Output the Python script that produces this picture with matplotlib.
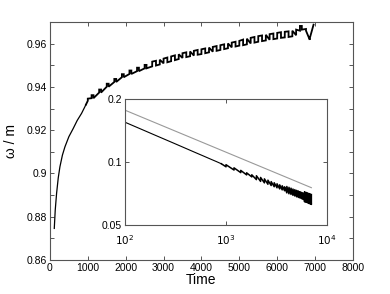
import matplotlib
matplotlib.use("Agg")
import matplotlib.pyplot as plt
from matplotlib.ticker import FixedLocator, NullLocator, NullFormatter

plt.rcParams['font.family'] = ['Liberation Sans', 'DejaVu Sans']

# ---- main curve: omega/m versus time (smooth early part) ----
smooth_t = [115, 140, 176, 220, 264, 330, 396, 500, 615, 720, 836, 950]
smooth_w = [0.8746, 0.8830, 0.8908, 0.8980, 0.9031, 0.9085, 0.9123, 0.9170, 0.9208, 0.9245, 0.9278, 0.9318]

# ---- jagged late part: each step has a first and second level at the same time ----
jag_t = [1000, 1100, 1150, 1300, 1350, 1500, 1550, 1700, 1750, 1900, 1950,
         2100, 2150, 2300, 2350, 2500, 2550, 2700, 2800, 2900,
         3000, 3100, 3200, 3300, 3400, 3500, 3600, 3700, 3800, 3900,
         4000, 4100, 4200, 4300, 4400, 4500, 4600, 4700, 4800, 4900,
         5000, 5100, 5200, 5300, 5400, 5500, 5600, 5700, 5800, 5900,
         6000, 6100, 6200, 6300, 6400, 6500, 6600, 6650, 6760, 6860]
jag_first = [0.9336, 0.9348, 0.9362, 0.9374, 0.9388, 0.9401, 0.9415, 0.9423, 0.9437, 0.9445, 0.9459,
             0.9460, 0.9476, 0.9473, 0.9489, 0.9486, 0.9502, 0.9495, 0.9521, 0.9504,
             0.9509, 0.9536, 0.9519, 0.9546, 0.9529, 0.9534, 0.9560, 0.9542, 0.9545, 0.9571,
             0.9552, 0.9578, 0.9560, 0.9563, 0.9589, 0.9571, 0.9597, 0.9579, 0.9583, 0.9609,
             0.9591, 0.9619, 0.9597, 0.9601, 0.9631, 0.9609, 0.9638, 0.9615, 0.9618, 0.9647,
             0.9624, 0.9653, 0.9629, 0.9657, 0.9634, 0.9639, 0.9660, 0.9682, 0.9668, 0.9618]
jag_second = [0.9346, 0.9362, 0.9348, 0.9388, 0.9374, 0.9415, 0.9401, 0.9437, 0.9423, 0.9459, 0.9445,
              0.9476, 0.9460, 0.9489, 0.9473, 0.9502, 0.9486, 0.9517, 0.9499, 0.9526,
              0.9531, 0.9514, 0.9541, 0.9524, 0.9551, 0.9556, 0.9538, 0.9564, 0.9567, 0.9549,
              0.9574, 0.9556, 0.9582, 0.9585, 0.9567, 0.9593, 0.9575, 0.9601, 0.9605, 0.9587,
              0.9613, 0.9593, 0.9623, 0.9627, 0.9605, 0.9635, 0.9612, 0.9641, 0.9644, 0.9621,
              0.9650, 0.9627, 0.9655, 0.9631, 0.9660, 0.9665, 0.9682, 0.9665, 0.9660, 0.9625]
end_t = 6960
end_w = 0.9688

# ---- inset: log-log decay ----
inset_smooth_t = [100, 150, 200, 300, 400, 500, 600, 700, 800, 900]
inset_smooth_v = [0.1550, 0.1425, 0.1342, 0.1234, 0.1162, 0.1109, 0.1068, 0.1034, 0.1006, 0.0981]
inset_jag_t = [1000, 1200, 1400, 1600, 1800, 2000, 2200, 2400, 2600, 2800,
               3000, 3200, 3400, 3600, 3800, 4000, 4200, 4400, 4600, 4800,
               5000, 5200, 5400, 5600, 5800, 6000, 6200, 6400, 6600, 6800, 7000]
inset_jag_first = [0.0949, 0.0916, 0.0890, 0.0868, 0.0849, 0.0824, 0.0808, 0.0795, 0.0783, 0.0772,
                   0.0762, 0.0753, 0.0744, 0.0736, 0.0729, 0.0712, 0.0705, 0.0700, 0.0693, 0.0688,
                   0.0682, 0.0677, 0.0673, 0.0668, 0.0663, 0.0645, 0.0642, 0.0638, 0.0634, 0.0630, 0.0627]
inset_jag_second = [0.0971, 0.0938, 0.0912, 0.0888, 0.0869, 0.0860, 0.0844, 0.0831, 0.0819, 0.0806,
                    0.0796, 0.0787, 0.0778, 0.0770, 0.0761, 0.0764, 0.0757, 0.0750, 0.0743, 0.0738,
                    0.0732, 0.0727, 0.0721, 0.0716, 0.0711, 0.0721, 0.0716, 0.0712, 0.0708, 0.0704, 0.0699]
ref_t = [100, 7000]
ref_v = [0.177, 0.0754]


def staircase(ts, firsts, seconds):
    xs, ys = [], []
    for t, a, b in zip(ts, firsts, seconds):
        xs += [t, t]
        ys += [a, b]
    return xs, ys


jx, jy = staircase(jag_t, jag_first, jag_second)
jag_x = [smooth_t[-1]] + jx + [end_t]
jag_y = [smooth_w[-1]] + jy + [end_w]

ix, iy = staircase(inset_jag_t, inset_jag_first, inset_jag_second)
inset_jx = [inset_smooth_t[-1]] + ix
inset_jy = [inset_smooth_v[-1]] + iy

fig = plt.figure(figsize=(3.9, 2.94), dpi=100)
ax = fig.add_axes([0.128, 0.1156, 0.777, 0.8094])
ax.plot(smooth_t, smooth_w, color='black', lw=0.9)
ax.plot(jag_x, jag_y, color='black', lw=1.3, solid_joinstyle='miter')
ax.set_xlim(0, 8000)
ax.set_ylim(0.86, 0.97)
ax.xaxis.set_major_locator(FixedLocator([0, 1000, 2000, 3000, 4000, 5000, 6000, 7000, 8000]))
ax.yaxis.set_major_locator(FixedLocator([0.86, 0.88, 0.90, 0.92, 0.94, 0.96]))
ax.yaxis.set_minor_locator(FixedLocator([0.87, 0.89, 0.91, 0.93, 0.95, 0.97]))
ax.set_yticklabels(['0.86', '0.88', '0.9', '0.92', '0.94', '0.96'])
ax.tick_params(which='both', direction='in', top=True, right=True, labelsize=7.5, pad=2,
               color='#555555', width=0.7, length=3)
for s in ax.spines.values():
    s.set_color('#555555')
    s.set_linewidth(0.8)
ax.set_xlabel('Time', fontsize=10, labelpad=0)
ax.set_ylabel('ω / m', fontsize=10, labelpad=6)

ins = fig.add_axes([0.3205, 0.2347, 0.518, 0.4283])
ins.plot(ref_t, ref_v, color='#999999', lw=0.8)
ins.plot(inset_smooth_t, inset_smooth_v, color='black', lw=0.8)
ins.plot(inset_jx, inset_jy, color='black', lw=1.1)
ins.set_xscale('log')
ins.set_yscale('log')
ins.set_xlim(100, 10000)
ins.set_ylim(0.05, 0.2)
ins.xaxis.set_major_locator(FixedLocator([100, 1000, 10000]))
ins.xaxis.set_minor_locator(NullLocator())
ins.yaxis.set_major_locator(FixedLocator([0.05, 0.1, 0.2]))
ins.yaxis.set_minor_locator(NullLocator())
ins.yaxis.set_minor_formatter(NullFormatter())
ins.set_xticklabels(['$10^2$', '$10^3$', '$10^4$'])
ins.set_yticklabels(['0.05', '0.1', '0.2'])
ins.tick_params(which='both', direction='in', top=True, right=True, labelsize=7.5,
                color='#555555', width=0.7, length=3)
ins.tick_params(axis='x', pad=6)
ins.tick_params(axis='y', pad=2)
for s in ins.spines.values():
    s.set_color('#555555')
    s.set_linewidth(0.8)

fig.savefig('out.png', dpi=100)
